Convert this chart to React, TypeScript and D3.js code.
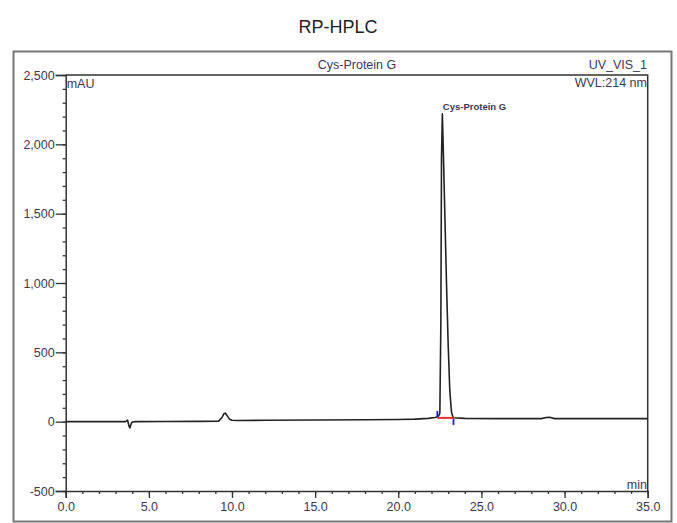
import React, { useRef, useEffect } from 'react';
import * as d3 from 'd3';

// retention time (min) and absorbance (mAU)
const times = [0, 1.5, 3.0, 3.6, 3.72, 3.8, 3.86, 3.92, 4.0, 4.2, 6.0, 8.0, 9.2, 9.4, 9.5, 9.6, 9.7, 9.85, 10.0, 10.3, 12.0, 15.0, 18.0, 20.0, 21.0, 21.8, 22.2, 22.4, 22.5, 22.56, 22.6, 22.65, 22.7, 22.8, 22.9, 23.0, 23.1, 23.2, 23.3, 24.0, 26.0, 28.6, 28.9, 29.1, 29.4, 31.0, 33.0, 35.0];
const absorbance = [0, 0, 0, 0, 12, -30, -45, -20, -2, 0, 1, 2, 4, 30, 55, 62, 45, 18, 10, 8, 10, 12, 14, 16, 18, 24, 30, 36, 60, 700, 1900, 2220, 2000, 1500, 1000, 560, 220, 70, 28, 24, 22, 22, 30, 32, 22, 22, 22, 22];

const xTicks = [0, 5, 10, 15, 20, 25, 30, 35];
const yTicks = [-500, 0, 500, 1000, 1500, 2000, 2500];

// integration marks of the main peak
const peakStart = 22.35;
const peakEnd = 23.32;
const peakBase = 27;
const peakApex = { t: 22.65, label: 'Cys-Protein G' };

const App = () => {
  const svgRef = useRef<SVGSVGElement>(null);
  const W = 677;
  const H = 523;
  const margin = { top: 75, right: 29.3, bottom: 32, left: 65.7 };

  useEffect(() => {
    const svg = d3.select(svgRef.current);
    svg.selectAll('*').remove();

    const x = d3.scaleLinear().domain([0, 35]).range([margin.left, W - margin.right]);
    const y = d3.scaleLinear().domain([-500, 2500]).range([H - margin.bottom, margin.top]);
    const font = 'Liberation Sans, Arial, sans-serif';
    const textColor = '#3a3a55';
    const fmtY = (d: d3.NumberValue) => d3.format(',')(d).replace('−', '-');

    svg.append('rect').attr('width', W).attr('height', H).attr('fill', '#fff');

    // title
    svg.append('text')
      .attr('x', 338).attr('y', 33)
      .attr('text-anchor', 'middle')
      .attr('font-family', font).attr('font-size', 18)
      .attr('fill', '#222')
      .text('RP-HPLC');

    // outer frame
    svg.append('rect')
      .attr('x', 13.5).attr('y', 51.5).attr('width', 658).attr('height', 470)
      .attr('fill', 'none').attr('stroke', '#777').attr('stroke-width', 2);

    // plot box (top and right)
    svg.append('path')
      .attr('d', `M${x(0)},${y(2500)}H${x(35)}V${y(-500)}`)
      .attr('fill', 'none').attr('stroke', '#333').attr('stroke-width', 1.5);

    // y axis
    const yAxis = svg.append('g').attr('transform', `translate(${x(0)},0)`);
    yAxis.call(d3.axisLeft(y).tickValues(d3.range(-500, 2501, 100)).tickSize(3).tickFormat(() => ''));
    yAxis.call(g => g.select('.domain').remove());
    const yMajor = svg.append('g').attr('transform', `translate(${x(0)},0)`);
    yMajor.call(d3.axisLeft(y).tickValues(yTicks).tickSize(10).tickPadding(1).tickFormat(fmtY));
    svg.selectAll('g').selectAll('line').attr('stroke', '#333').attr('stroke-width', 1.3);
    yMajor.select('.domain').attr('stroke', '#333').attr('stroke-width', 1.5);
    yMajor.selectAll('text').attr('font-family', font).attr('font-size', 12.5).attr('fill', textColor);

    // x axis
    const xAxis = svg.append('g').attr('transform', `translate(0,${y(-500)})`);
    xAxis.call(d3.axisBottom(x).tickValues(d3.range(0, 36, 1)).tickSize(3).tickFormat(() => ''));
    xAxis.call(g => g.select('.domain').remove());
    const xMajor = svg.append('g').attr('transform', `translate(0,${y(-500)})`);
    xMajor.call(d3.axisBottom(x).tickValues(xTicks).tickSize(7).tickPadding(4).tickFormat(d3.format('.1f')));
    svg.selectAll('g').selectAll('line').attr('stroke', '#333').attr('stroke-width', 1.3);
    xMajor.select('.domain').attr('stroke', '#333').attr('stroke-width', 1.5);
    xMajor.selectAll('text').attr('font-family', font).attr('font-size', 12.5).attr('fill', textColor);

    // labels
    const label = (tx: number, ty: number, s: string, anchor: string, size = 12, weight = 'normal') =>
      svg.append('text')
        .attr('x', tx).attr('y', ty)
        .attr('text-anchor', anchor)
        .attr('font-family', font).attr('font-size', size).attr('font-weight', weight)
        .attr('fill', textColor)
        .text(s);
    label(357, 69, 'Cys-Protein G', 'middle', 12.5);
    label(647, 69, 'UV_VIS_1', 'end', 12.5);
    label(647, 87, 'WVL:214 nm', 'end', 12.5);
    label(x(0) + 1, 88, 'mAU', 'start', 12.5);
    label(647, 489, 'min', 'end', 12.5);

    // chromatogram trace
    const pts = times.map((t, i) => [t, absorbance[i]] as [number, number]);
    const line = d3.line<[number, number]>().x(d => x(d[0])).y(d => y(d[1]));
    svg.append('path')
      .datum(pts)
      .attr('d', line)
      .attr('fill', 'none')
      .attr('stroke', '#222')
      .attr('stroke-width', 1.6)
      .attr('stroke-linejoin', 'round');

    // integration baseline and delimiters
    svg.append('line')
      .attr('x1', x(peakStart)).attr('x2', x(peakEnd))
      .attr('y1', y(peakBase)).attr('y2', y(peakBase))
      .attr('stroke', '#f03030').attr('stroke-width', 2);
    svg.append('line')
      .attr('x1', x(peakStart)).attr('x2', x(peakStart))
      .attr('y1', y(peakBase) - 7).attr('y2', y(peakBase) - 1)
      .attr('stroke', '#1a1aff').attr('stroke-width', 1.8);
    svg.append('line')
      .attr('x1', x(peakEnd)).attr('x2', x(peakEnd))
      .attr('y1', y(peakBase) + 1).attr('y2', y(peakBase) + 7)
      .attr('stroke', '#1a1aff').attr('stroke-width', 1.8);

    // peak name
    label(x(peakApex.t) + 0.5, 110, peakApex.label, 'start', 9.5, 'bold');
  }, []);

  return (
    <svg
      ref={svgRef}
      width={W}
      height={H}
      style={{ position: 'absolute', left: 0, top: 0 }}
    />
  );
};

export default App;
